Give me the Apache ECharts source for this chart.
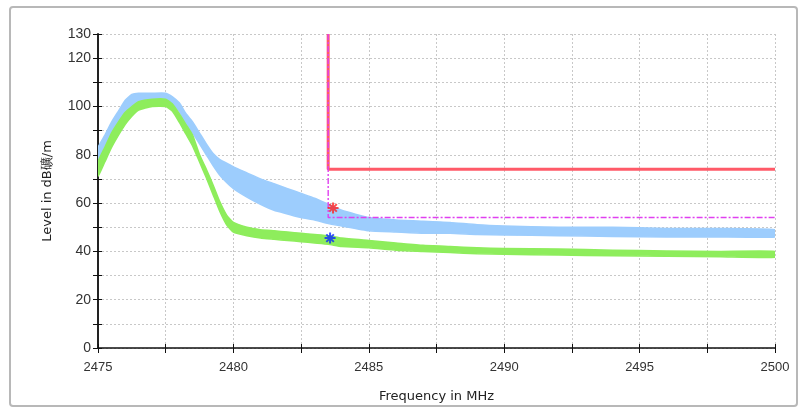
<!DOCTYPE html>
<html><head><meta charset="utf-8">
<script src="https://cdn.jsdelivr.net/npm/echarts@6/dist/echarts.min.js"></script>
<style>html,body{margin:0;padding:0;background:#fff}#c{width:800px;height:408px}</style>
</head><body><div id="c"></div>
<script>
// Frequency sample points (MHz)
const freq = [2475,2475.25,2475.5,2475.75,2476,2476.25,2476.5,2477,2477.5,2477.75,2478,2478.25,2478.5,2478.75,2479,2479.25,2479.5,2479.75,2480,2480.5,2481,2481.5,2482,2482.5,2483,2483.5,2484,2485,2486,2487,2488,2489,2490,2492,2494,2496,2498,2500];
// Peak trace (light blue) envelope
const peakUpper = [83,88,93.5,98,102.5,105,105.5,105.5,105.5,104,101.5,97,93.5,89,84.5,80.5,78,76.5,75,72.5,70,68,66,64,62,59.5,57,54,53,52.5,52,51,50.5,50,50,49.5,49.5,49];
const peakLower = [78,83,88.5,93,97,99.5,101,102,102,101,98,93,89,84.5,80,75.5,71.5,68.5,66,62.5,59.5,57,55.5,54,53,51.5,50.5,48.5,48,47.5,47.5,47,46.8,46.5,46.2,46,46,46];
// Average trace (green) envelope
const avgUpper = [77,83,89,93.5,97.5,100,102,103,103,101,97,92.5,88,80,74,67.5,60.5,55,52,50,49,48.5,48,47.5,47,46.5,45.5,44.5,43.5,42.5,42,41.5,41.2,41,40.5,40.2,40,40];
const avgLower = [71,77,83,88,92.5,96,98.5,100,100,98,93.5,88.5,83.5,77,70.5,63.5,56.5,51,48,46.5,45.5,45,44.5,44,43.5,43,42,41.5,40.5,40,39.5,39,38.8,38.5,38.2,38,37.8,37.6];
// Limit lines
const peakLimitX = [2483.5,2483.5,2500];
const peakLimitY = [130,74,74];
const avgLimitX = [2483.5,2483.5,2500];
const avgLimitY = [130,54,54];
// Markers
const peakMarker = [2483.68,58];
const avgMarker = [2483.57,45.5];
// Tick labels
const yTickLabels = [0,20,40,60,80,100,120,130];
const xTickLabels = [2475,2480,2485,2490,2495,2500];

const zip = (xs, ys) => xs.map((x,i)=>[x,ys[i]]);
const font = 'Liberation Sans, Arial, sans-serif';
const nameFont = 'DejaVu Sans, Liberation Sans, sans-serif';
const ast = 'path://M5,0L5,10M0,5L10,5M1.6,1.6L8.4,8.4M1.6,8.4L8.4,1.6';

function bandSeries(upper, lower, color, z){
  return {
    type:'custom', silent:true, z:z, clip:true,
    data: freq.map((f,i)=>[f, upper[i], lower[i]]),
    encode:{x:0, y:[1,2]},
    renderItem:(params, api)=>{
      if (params.dataIndex !== 0) return null;
      const pts = [];
      for (let i=0;i<freq.length;i++) pts.push(api.coord([freq[i], upper[i]]));
      for (let i=freq.length-1;i>=0;i--) pts.push(api.coord([freq[i], lower[i]]));
      return {type:'polygon', shape:{points:pts, smooth:0.15}, style:{fill:color, stroke:color, lineWidth:1.5}};
    }
  };
}

const chart = echarts.init(document.getElementById('c'), null, {renderer:'canvas'});
chart.setOption({
  animation:false,
  backgroundColor:'#fff',
  graphic:[{type:'rect', shape:{x:10,y:7,width:787,height:399,r:3}, style:{fill:'none',stroke:'#b8b8b8',lineWidth:2}, silent:true}],
  grid:{left:98,right:25,top:34,bottom:60},
  xAxis:[{
    type:'value', min:2475, max:2500, interval:2.5,
    name:'Frequency in MHz', nameLocation:'middle', nameGap:42,
    nameTextStyle:{color:'#222',fontSize:13,fontFamily:nameFont},
    axisLine:{lineStyle:{color:'#111',width:1.5}},
    axisTick:{length:5,lineStyle:{color:'#111'}},
    axisLabel:{margin:13,color:'#333',fontSize:13,fontFamily:font,
      formatter:v=>xTickLabels.includes(v)?String(v):''},
    splitLine:{show:true,lineStyle:{color:'#c8c8c8',type:[2,2],width:1}}
  },{
    type:'value', min:2475, max:2500, interval:2.5, position:'top', offset:-314,
    axisLine:{show:false}, axisTick:{length:4,lineStyle:{color:'#111'}},
    axisLabel:{show:false}, splitLine:{show:false}
  }],
  yAxis:[{
    type:'value', min:0, max:130, interval:10,
    name:'Level in dB礦/m', nameLocation:'middle', nameGap:44,
    nameTextStyle:{color:'#222',fontSize:13,fontFamily:nameFont},
    axisLine:{show:true,lineStyle:{color:'#222',width:2}},
    axisTick:{show:true,length:5,lineStyle:{color:'#111'}},
    axisLabel:{margin:7,color:'#333',fontSize:14,fontFamily:font,
      formatter:v=>yTickLabels.includes(v)?String(v):''},
    splitLine:{show:true,lineStyle:{color:'#c8c8c8',type:[2,2],width:1}}
  },{
    type:'value', min:0, max:130, interval:10, position:'right', offset:-677,
    axisLine:{show:false}, axisTick:{show:true,length:4,lineStyle:{color:'#111'}},
    axisLabel:{show:false}, splitLine:{show:false}
  }],
  series:[
    bandSeries(peakUpper, peakLower, '#9dcdfd', 2),
    bandSeries(avgUpper, avgLower, '#8eed5c', 3),
    {type:'line', name:'peakLimit', data:zip(peakLimitX,peakLimitY), showSymbol:false, silent:true,
      lineStyle:{color:'#ff5a68',width:3}, z:4},
    {type:'line', name:'avgLimit', data:zip(avgLimitX,avgLimitY), showSymbol:false, silent:true,
      lineStyle:{color:'#e040f0',width:1.4,type:[6,2,2,2]}, z:5},
    {type:'scatter', data:[peakMarker], symbol:ast, symbolSize:11, silent:true,
      itemStyle:{color:'rgba(0,0,0,0)',borderColor:'#ff2020',borderWidth:2}, z:6},
    {type:'scatter', data:[avgMarker], symbol:ast, symbolSize:11, silent:true,
      itemStyle:{color:'rgba(0,0,0,0)',borderColor:'#0a28ff',borderWidth:2}, z:6}
  ]
});
</script></body></html>
